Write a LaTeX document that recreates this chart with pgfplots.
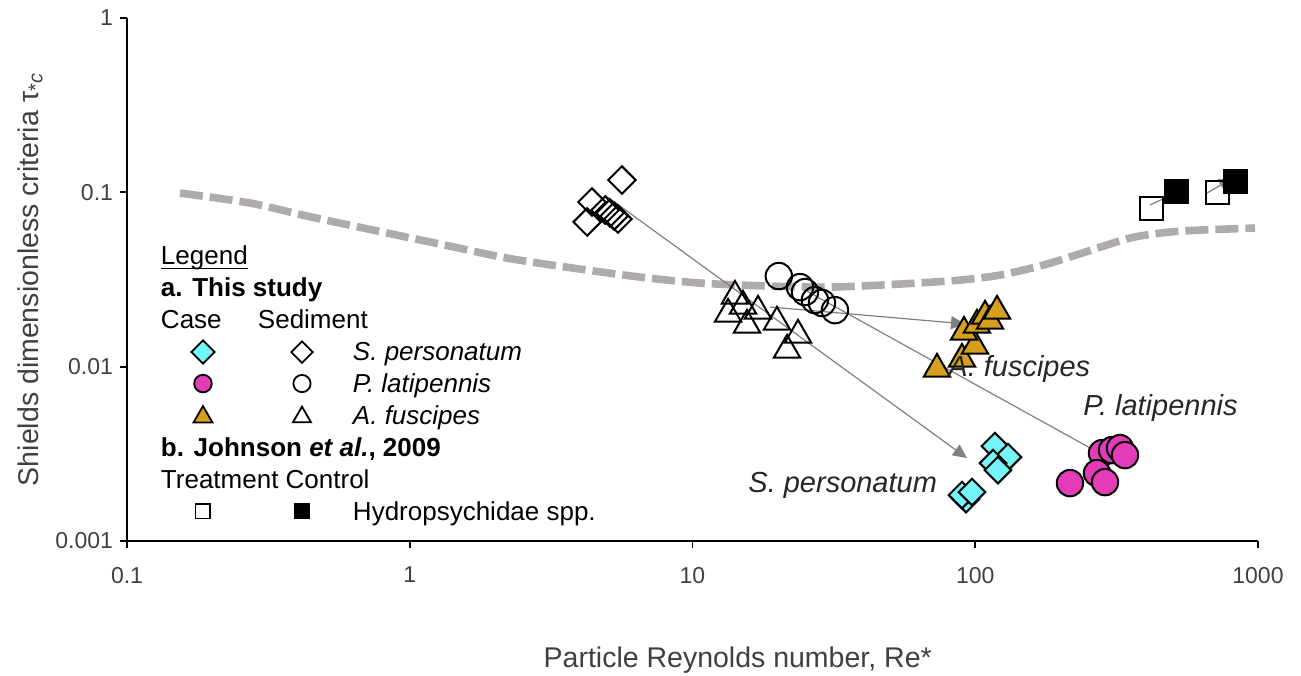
\documentclass[border=0pt]{standalone}
\usepackage{fontspec}
\setmainfont{Liberation Sans}
\usepackage{pgfplots}
\pgfplotsset{compat=1.18}
\usetikzlibrary{arrows.meta}

\definecolor{caseCyan}{RGB}{115,245,250}
\definecolor{caseMagenta}{RGB}{228,60,184}
\definecolor{caseGold}{RGB}{214,160,30}
\definecolor{shields}{RGB}{175,171,171}
\definecolor{arrowgray}{RGB}{128,128,128}
\definecolor{labelgray}{RGB}{64,64,64}
\definecolor{notegray}{RGB}{38,38,38}

% underline that sits just under the baseline
\newcommand{\ul}[1]{\setbox0\hbox{#1}\rlap{\rule[-2pt]{\wd0}{0.7pt}}\box0}
% legend text that hangs to the left, into the key column
\newcommand{\hang}[1]{\makebox[0pt][l]{\hspace*{-96.5pt}#1}}
% invisible key extent shared by every legend row
\newcommand{\keybox}{\path[draw=none, fill=none] (-21.5pt,-1pt) rectangle (75pt,1pt);}

\begin{document}
\begin{tikzpicture}
\useasboundingbox (-63.5pt,-67pt) rectangle (587pt,270.5pt);
\begin{axis}[
  at={(0pt,0pt)}, anchor=south west,
  scale only axis, width=565.5pt, height=261.5pt,
  xmode=log, ymode=log,
  xmin=0.1, xmax=1000, ymin=0.001, ymax=1,
  axis lines=left,
  axis line style={-, line width=0.9pt, black},
  tick align=outside,
  major tick length=3.5pt,
  major tick style={line width=0.9pt, black},
  minor tick style={draw=none},
  xtick={0.1,1,10,100,1000}, xticklabels={0.1,1,10,100,1000},
  ytick={0.001,0.01,0.1,1}, yticklabels={0.001,0.01,0.1,1},
  /pgf/number format/assume math mode=true,
  ticklabel style={font=\fontsize{11.5}{13}\selectfont, text=labelgray},
  xticklabel style={anchor=north, yshift=-6pt},
  yticklabel style={anchor=east, xshift=0pt},
  xlabel={Particle Reynolds number, Re*},
  ylabel={Shields dimensionless criteria τ\textsubscript{*\textit{c}}},
  label style={font=\fontsize{14.25}{16}\selectfont, text=labelgray},
  xlabel style={at={(axis description cs:0.540,-0.241)}, anchor=base},
  ylabel style={at={(axis description cs:-0.0858,0.5)}, anchor=center},
  clip=false,
  legend cell align=left,
  legend style={at={(axis description cs:0.02918,0.56788)}, anchor=north west,
    draw=none, fill=none, inner sep=0pt, outer sep=0pt,
    row sep=0pt, column sep=0pt,
    nodes={inner sep=0pt, text height=10.45pt, text depth=5.5pt,
      font=\fontsize{13}{15}\selectfont}},
]
% sediment (open markers)
\addplot[forget plot, only marks, mark=square, mark size=4.85pt,
  mark options={rotate=45, line width=1pt, draw=black, fill=none}] coordinates {
  (5.63,0.1177) (4.41,0.0880) (4.24,0.0676) (4.91,0.0791)
  (5.11,0.0761) (5.28,0.0731) (5.45,0.0703)
};
\addplot[forget plot, only marks, mark=o, mark size=6.6pt,
  mark options={line width=1pt, draw=black, fill=none}] coordinates {
  (20.2,0.0331) (24.0,0.0286) (25.0,0.0268) (27.1,0.0241)
  (28.7,0.0232) (31.9,0.0211)
};
\addplot[forget plot, only marks, mark=triangle, mark size=7.6pt,
  mark options={line width=1pt, draw=black, fill=none}] coordinates {
  (14.13,0.02541) (15.09,0.02227) (17.05,0.02084) (13.36,0.02003)
  (15.59,0.01733) (19.90,0.01803) (23.61,0.01518) (21.59,0.01245)
};
% Shields curve
\addplot[forget plot, shields, line width=3.8pt, dash pattern=on 11.5pt off 3.5pt,
  smooth, tension=0.5] coordinates {
  (0.1540,0.09908) (0.2723,0.08682) (0.4331,0.07311) (0.7414,0.06075)
  (1.279,0.05051) (2.208,0.04198) (3.780,0.03678) (6.522,0.03266)
  (10.63,0.03018) (18.34,0.02901) (30.64,0.02862) (54.18,0.02978)
  (88.33,0.03139) (122.3,0.03353) (169.4,0.03780) (225.4,0.04350)
  (292.4,0.04990) (361.3,0.05520) (476.6,0.05900) (623.6,0.06075)
  (975.9,0.06238)
};
% Johnson et al. (2009): treatment (open) and control (filled)
\addplot[forget plot, only marks, mark=square, mark size=5.75pt,
  mark options={line width=1pt, draw=black, fill=white}] coordinates {
  (421.8,0.08126) (722.0,0.1004)
};
\addplot[forget plot, only marks, mark=square*, mark size=5.75pt,
  mark options={line width=1pt, draw=black, fill=black}] coordinates {
  (517.0,0.1017) (829.3,0.1161)
};
% cases (filled markers)
\addplot[forget plot, only marks, mark=triangle*, mark size=7.6pt,
  mark options={line width=1pt, draw=black, fill=caseGold}] coordinates {
  (73.22,0.00969) (89.78,0.01105) (99.80,0.01313) (91.25,0.01579)
  (101.4,0.01733) (108.3,0.01953) (112.8,0.01827) (119.4,0.02084)
};
\addplot[forget plot, only marks, mark=square*, mark size=4.7pt,
  mark options={rotate=45, line width=1pt, draw=black, fill=caseCyan}] coordinates {
  (117.4,0.003503) (130.6,0.003030) (115.6,0.002798) (120.3,0.002551)
  (92.75,0.001739) (89.78,0.001834) (97.39,0.001908)
};
\addplot[forget plot, only marks, mark=*, mark size=6.6pt,
  mark options={line width=1pt, draw=black, fill=caseMagenta}] coordinates {
  (280.7,0.003193) (304.6,0.003322) (325.1,0.003411) (338.6,0.003110)
  (269.5,0.002453) (216.3,0.002149) (287.7,0.002177)
};
% sediment -> case shifts
\addplot[forget plot, arrowgray, line width=0.6pt, -{Triangle[length=7pt,width=6.5pt]}]
  coordinates {(4.90,0.0965) (93.5,0.00299)};
\addplot[forget plot, arrowgray, line width=0.6pt, -{Triangle[length=7pt,width=6.5pt]}]
  coordinates {(25.0,0.0275) (283,0.00311)};
\addplot[forget plot, arrowgray, line width=0.6pt, -{Triangle[length=7pt,width=6.5pt]}]
  coordinates {(18.8,0.0220) (92.0,0.0176)};
\addplot[forget plot, arrowgray, line width=0.6pt, -{Triangle[length=7pt,width=6.5pt]}]
  coordinates {(415,0.0846) (538,0.1031)};
\addplot[forget plot, arrowgray, line width=0.6pt, -{Triangle[length=7pt,width=6.5pt]}]
  coordinates {(660,0.0991) (816,0.1208)};

% legend: headers hang left, keys show case and sediment side by side
\addlegendimage{legend image code/.code={\keybox}}
\addlegendentry{\hang{\ul{Legend}}}
\addlegendimage{legend image code/.code={\keybox}}
\addlegendentry{\hang{\bfseries a. This study}}
\addlegendimage{legend image code/.code={\keybox}}
\addlegendentry{\hang{\makebox[48.5pt][l]{Case}Sediment}}
\addlegendimage{legend image code/.code={\keybox
  \draw[black, line width=0.9pt, mark options={rotate=45, draw=black, fill=caseCyan}]
    plot[only marks, mark=square*, mark size=4.1pt] coordinates {(0pt,1.8pt)};
  \draw[black, line width=0.9pt, mark options={rotate=45, draw=black}]
    plot[only marks, mark=square, mark size=3.8pt] coordinates {(49.5pt,1.8pt)};}}
\addlegendentry{\itshape S. personatum}
\addlegendimage{legend image code/.code={\keybox
  \draw[black, line width=0.9pt, mark options={draw=black, fill=caseMagenta}]
    plot[only marks, mark=*, mark size=4.4pt] coordinates {(0pt,2pt)};
  \draw[black, line width=0.9pt, mark options={draw=black}]
    plot[only marks, mark=o, mark size=4.3pt] coordinates {(49.5pt,2pt)};}}
\addlegendentry{\itshape P. latipennis}
\addlegendimage{legend image code/.code={\keybox
  \draw[black, line width=0.9pt, mark options={draw=black, fill=caseGold}]
    plot[only marks, mark=triangle*, mark size=5.5pt] coordinates {(0pt,1.2pt)};
  \draw[black, line width=0.9pt, mark options={draw=black}]
    plot[only marks, mark=triangle, mark size=5.2pt] coordinates {(49.5pt,1.2pt)};}}
\addlegendentry{\itshape A. fuscipes}
\addlegendimage{legend image code/.code={\keybox}}
\addlegendentry{\hang{\bfseries b. Johnson \textit{et al.}, 2009}}
\addlegendimage{legend image code/.code={\keybox}}
\addlegendentry{\hang{Treatment Control}}
\addlegendimage{legend image code/.code={\keybox
  \draw[black, line width=0.9pt, mark options={draw=black, fill=white}]
    plot[only marks, mark=square*, mark size=3.7pt] coordinates {(0pt,2pt)};
  \draw[black, line width=0.9pt, mark options={draw=black, fill=black}]
    plot[only marks, mark=square*, mark size=3.7pt] coordinates {(49.5pt,2pt)};}}
\addlegendentry{Hydropsychidae spp.}
\end{axis}

% species labels
\begin{scope}[every node/.style={inner sep=0pt, anchor=base west, text=notegray,
    font=\fontsize{14.5}{16}\selectfont\itshape}]
\node at (410.5pt,82pt) {A. fuscipes};
\node at (478pt,63pt) {P. latipennis};
\node at (310.5pt,24pt) {S. personatum};
\end{scope}
\end{tikzpicture}
\end{document}
